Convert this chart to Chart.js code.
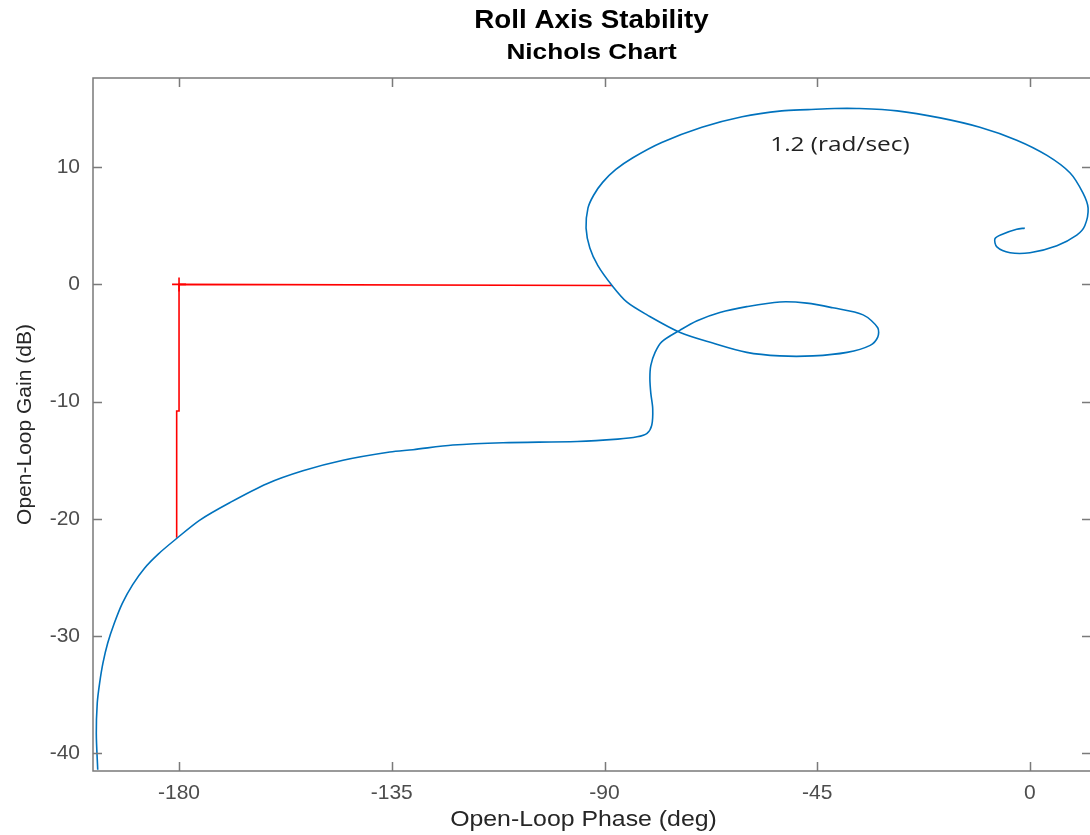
<!DOCTYPE html>
<html>
<head>
<meta charset="utf-8">
<title>Roll Axis Stability - Nichols Chart</title>
<script src="https://cdn.jsdelivr.net/npm/chart.js@4.4.1/dist/chart.umd.min.js"></script>
<style>
  html, body { margin: 0; padding: 0; background: #fff; overflow: hidden; }
  #wrap { width: 1090px; height: 835px; position: relative; }
</style>
</head>
<body>
<div id="wrap"><canvas id="nicholsChart"></canvas></div>
<script>
// Open-loop frequency response (low to high frequency)
const phaseDeg = [
    -197.2, -197.5, -197.3, -196.8, -196.1, -195.1, -193.7, -192.0, -189.8, -187.3,
    -184.4, -180.9, -175.6, -169.2, -161.4, -153.8, -145.3, -135.4, -130.5, -122.1,
    -111.5, -95.8, -87.2, -83.1, -81.0, -80.0, -79.8, -80.2, -80.4, -80.2,
    -79.3, -77.9, -74.0, -70.4, -65.6, -59.9, -52.9, -47.2, -41.7, -35.3,
    -32.2, -32.2, -33.8, -38.7, -45.9, -52.9, -59.9, -67.1, -74.0, -81.0,
    -85.3, -88.4, -91.4, -93.1, -93.9, -93.5, -92.3, -90.4, -87.6, -84.0,
    -77.9, -69.4, -60.9, -52.5, -47.0, -41.3, -36.6, -28.1, -19.0, -10.6,
    -2.8, 3.6, 8.5, 11.2, 12.3, 11.6, 9.9, 5.7, 0.0, -4.2,
    -7.0, -7.4, -5.7, -2.8, -1.1
];
const gainDb = [
    -41.4, -38.3, -35.7, -34.0, -32.3, -30.6, -28.9, -27.2, -25.6, -24.2,
    -23.0, -21.8, -20.1, -18.6, -17.0, -15.9, -15.0, -14.3, -14.1, -13.7,
    -13.5, -13.4, -13.2, -13.0, -12.7, -12.0, -10.6, -9.3, -8.0, -6.9,
    -5.8, -4.9, -3.9, -3.1, -2.4, -1.9, -1.5, -1.6, -2.0, -2.6,
    -3.7, -4.5, -5.2, -5.8, -6.1, -6.1, -5.8, -5.0, -4.1, -2.6,
    -1.5, -0.1, 1.6, 3.1, 4.8, 6.5, 7.6, 8.7, 9.8, 10.8,
    12.1, 13.4, 14.3, 14.8, 14.9, 15.0, 15.0, 14.8, 14.2, 13.4,
    12.3, 11.0, 9.5, 7.8, 6.5, 5.0, 4.2, 3.3, 2.7, 2.7,
    3.2, 3.9, 4.3, 4.7, 4.8
];

// Stability margin marker lines (red)
const marginPhase = [-180.5, -180.5, -180.0, -180.0, -88.4];
const marginGain = [-21.6, -10.8, -10.8, 0.0, -0.1];
const criticalPhase = [-180];
const criticalGain = [0];

// Axes
const xTicks = [-180, -135, -90, -45, 0];
const yTicks = [-40, -30, -20, -10, 0, 10];
const xRange = [-198.2, 12.7];
const yRange = [-41.5, 17.6];

const freqNote = { text: '1.2 (rad/sec)', phase: -40.2, gain: 11.9 };

const toPoints = (xs, ys) => xs.map((x, i) => ({ x: x, y: ys[i] }));

const AXIS_COLOR = '#7a7a7a';
const LABEL_COLOR = '#262626';

// text drawn with a horizontal stretch, to match the reference's wide glyphs
function wideText(ctx, text, x, y, font, sx) {
    ctx.save();
    ctx.font = font;
    ctx.translate(x, y);
    ctx.scale(sx, 1);
    ctx.fillText(text, 0, 0);
    ctx.restore();
}

// Draws the MATLAB-like frame: box, inward ticks, titles and annotation
const matlabFrame = {
    id: 'matlabFrame',
    afterDraw(chart) {
        const { ctx, chartArea: a, scales } = chart;
        const xs = scales.x, ys = scales.y;
        const tick = 9;
        ctx.save();
        ctx.strokeStyle = AXIS_COLOR;
        ctx.lineWidth = 1.5;
        // right edge of the box falls just outside the picture
        ctx.beginPath();
        ctx.moveTo(a.right + 2, a.top);
        ctx.lineTo(a.left, a.top);
        ctx.lineTo(a.left, a.bottom);
        ctx.lineTo(a.right + 2, a.bottom);
        ctx.stroke();

        ctx.beginPath();
        xTicks.forEach(v => {
            const px = Math.round(xs.getPixelForValue(v)) + 0.5;
            ctx.moveTo(px, a.bottom); ctx.lineTo(px, a.bottom - tick);
            ctx.moveTo(px, a.top); ctx.lineTo(px, a.top + tick);
        });
        yTicks.forEach(v => {
            const py = Math.round(ys.getPixelForValue(v)) + 0.5;
            ctx.moveTo(a.left, py); ctx.lineTo(a.left + tick, py);
            ctx.moveTo(a.right + 1, py); ctx.lineTo(a.right + 1 - tick, py);
        });
        ctx.stroke();

        // titles
        const cx = (a.left + a.right) / 2;
        ctx.fillStyle = '#000';
        ctx.textAlign = 'center';
        ctx.textBaseline = 'middle';
        wideText(ctx, 'Roll Axis Stability', cx, 21, 'bold 25px "Liberation Sans", Arial, sans-serif', 1.11);
        wideText(ctx, 'Nichols Chart', cx, 53, 'bold 22px "Liberation Sans", Arial, sans-serif', 1.19);

        // axis titles
        ctx.fillStyle = LABEL_COLOR;
        wideText(ctx, 'Open-Loop Phase (deg)', cx - 8, 820, '22px "Liberation Sans", Arial, sans-serif', 1.13);
        ctx.save();
        ctx.translate(25, (a.top + a.bottom) / 2);
        ctx.rotate(-Math.PI / 2);
        ctx.font = '21px "Liberation Sans", Arial, sans-serif';
        ctx.fillText('Open-Loop Gain (dB)', 0, 0);
        ctx.restore();

        // frequency annotation
        ctx.fillStyle = '#222';
        wideText(ctx, freqNote.text, xs.getPixelForValue(freqNote.phase), ys.getPixelForValue(freqNote.gain),
            '20px "Open Sans", sans-serif', 1.22);
        ctx.restore();
    }
};

const tickFont = { family: '"Liberation Sans", Arial, sans-serif', size: 21 };

new Chart(document.getElementById('nicholsChart'), {
    type: 'scatter',
    data: {
        datasets: [
            {
                label: 'Open loop',
                data: toPoints(phaseDeg, gainDb),
                showLine: true,
                borderColor: '#0072BD',
                borderWidth: 1.6,
                pointRadius: 0,
                tension: 0.3,
                fill: false
            },
            {
                label: 'Margins',
                data: toPoints(marginPhase, marginGain),
                showLine: true,
                borderColor: '#ff0000',
                borderWidth: 1.6,
                pointRadius: 0,
                tension: 0,
                fill: false
            },
            {
                label: 'Critical point',
                data: toPoints(criticalPhase, criticalGain),
                showLine: false,
                pointStyle: 'cross',
                pointRadius: 7,
                pointBorderWidth: 1.6,
                pointBorderColor: '#ff0000',
                pointBackgroundColor: '#ff0000'
            }
        ]
    },
    options: {
        responsive: true,
        maintainAspectRatio: false,
        animation: false,
        layout: { autoPadding: false, padding: { top: 78, right: 0, left: 0, bottom: 0 } },
        plugins: {
            legend: { display: false },
            tooltip: { enabled: false },
            title: { display: false }
        },
        scales: {
            x: {
                type: 'linear',
                min: xRange[0],
                max: xRange[1],
                grid: { display: false, drawTicks: false },
                border: { display: false },
                afterBuildTicks: scale => { scale.ticks = xTicks.map(v => ({ value: v })); },
                afterFit: scale => { scale.height = 64; },
                ticks: {
                    color: '#4d4d4d',
                    font: tickFont,
                    padding: 10,
                    maxRotation: 0,
                    callback: v => String(v)
                }
            },
            y: {
                type: 'linear',
                min: yRange[0],
                max: yRange[1],
                grid: { display: false, drawTicks: false },
                border: { display: false },
                afterBuildTicks: scale => { scale.ticks = yTicks.map(v => ({ value: v })); },
                afterFit: scale => { scale.width = 93; },
                ticks: {
                    color: '#4d4d4d',
                    font: tickFont,
                    padding: 13,
                    callback: v => String(v)
                }
            }
        }
    },
    plugins: [matlabFrame]
});
</script>
</body>
</html>
